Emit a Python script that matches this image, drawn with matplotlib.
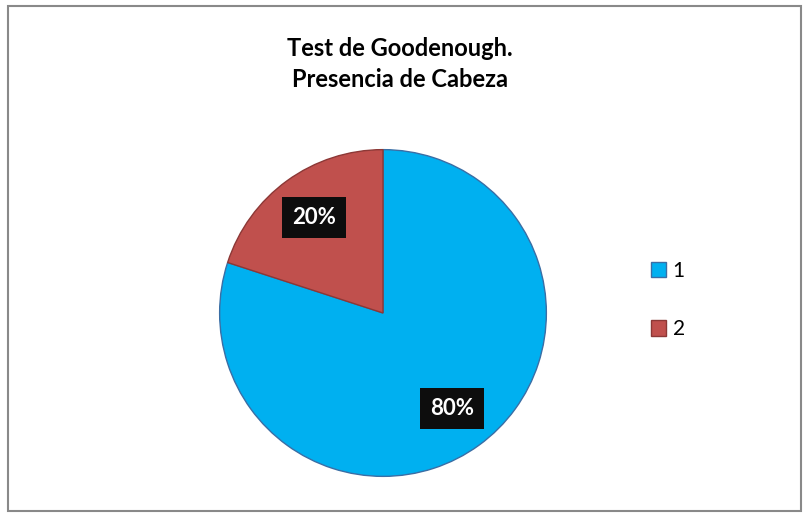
import matplotlib.pyplot as plt
from matplotlib.patches import Rectangle, Patch

labels = ['1', '2']
values = [80, 20]
colors = ['#00B0F0', '#C0504D']
edges = ['#3A6EA5', '#8C3836']

plt.rcParams['font.family'] = ['Lato', 'DejaVu Sans']

fig = plt.figure(figsize=(8.09, 5.17), dpi=100)
fig.patch.set_facecolor('white')

# chart border
fig.patches.append(Rectangle((8 / 809, 6 / 517), 793 / 809, 505 / 517,
                             transform=fig.transFigure, fill=False,
                             edgecolor='#898989', linewidth=1.5))

ax = fig.add_axes([218 / 809, 39 / 517, 330 / 809, 330 / 517])
wedges, texts, autotexts = ax.pie(values, colors=colors, startangle=90, counterclock=False,
                                  autopct='%d%%', pctdistance=0.72,
                                  wedgeprops=dict(linewidth=1))
for w, e in zip(wedges, edges):
    w.set_edgecolor(e)
for t in autotexts:
    t.set_color('white')
    t.set_fontweight('bold')
    t.set_fontsize(16)
    t.set_bbox(dict(facecolor='#0D0D0D', edgecolor='none', boxstyle='square,pad=0.45'))
ax.set_xlim(-1.01, 1.01)
ax.set_ylim(-1.01, 1.01)
ax.set_aspect('equal')

fig.text(400 / 809, 1 - 64 / 517, 'Test de Goodenough.\nPresencia de Cabeza',
         ha='center', va='center', fontsize=17, fontweight='bold', linespacing=1.45)

handles = [Patch(facecolor=c, edgecolor=e, label=l) for c, e, l in zip(colors, edges, labels)]
fig.legend(handles=handles, loc='center left', bbox_to_anchor=(632 / 809, 1 - 300 / 517),
           frameon=False, fontsize=15, handlelength=0.75, handleheight=0.75,
           labelspacing=1.85, handletextpad=0.3)

fig.savefig('out.png', dpi=100)
